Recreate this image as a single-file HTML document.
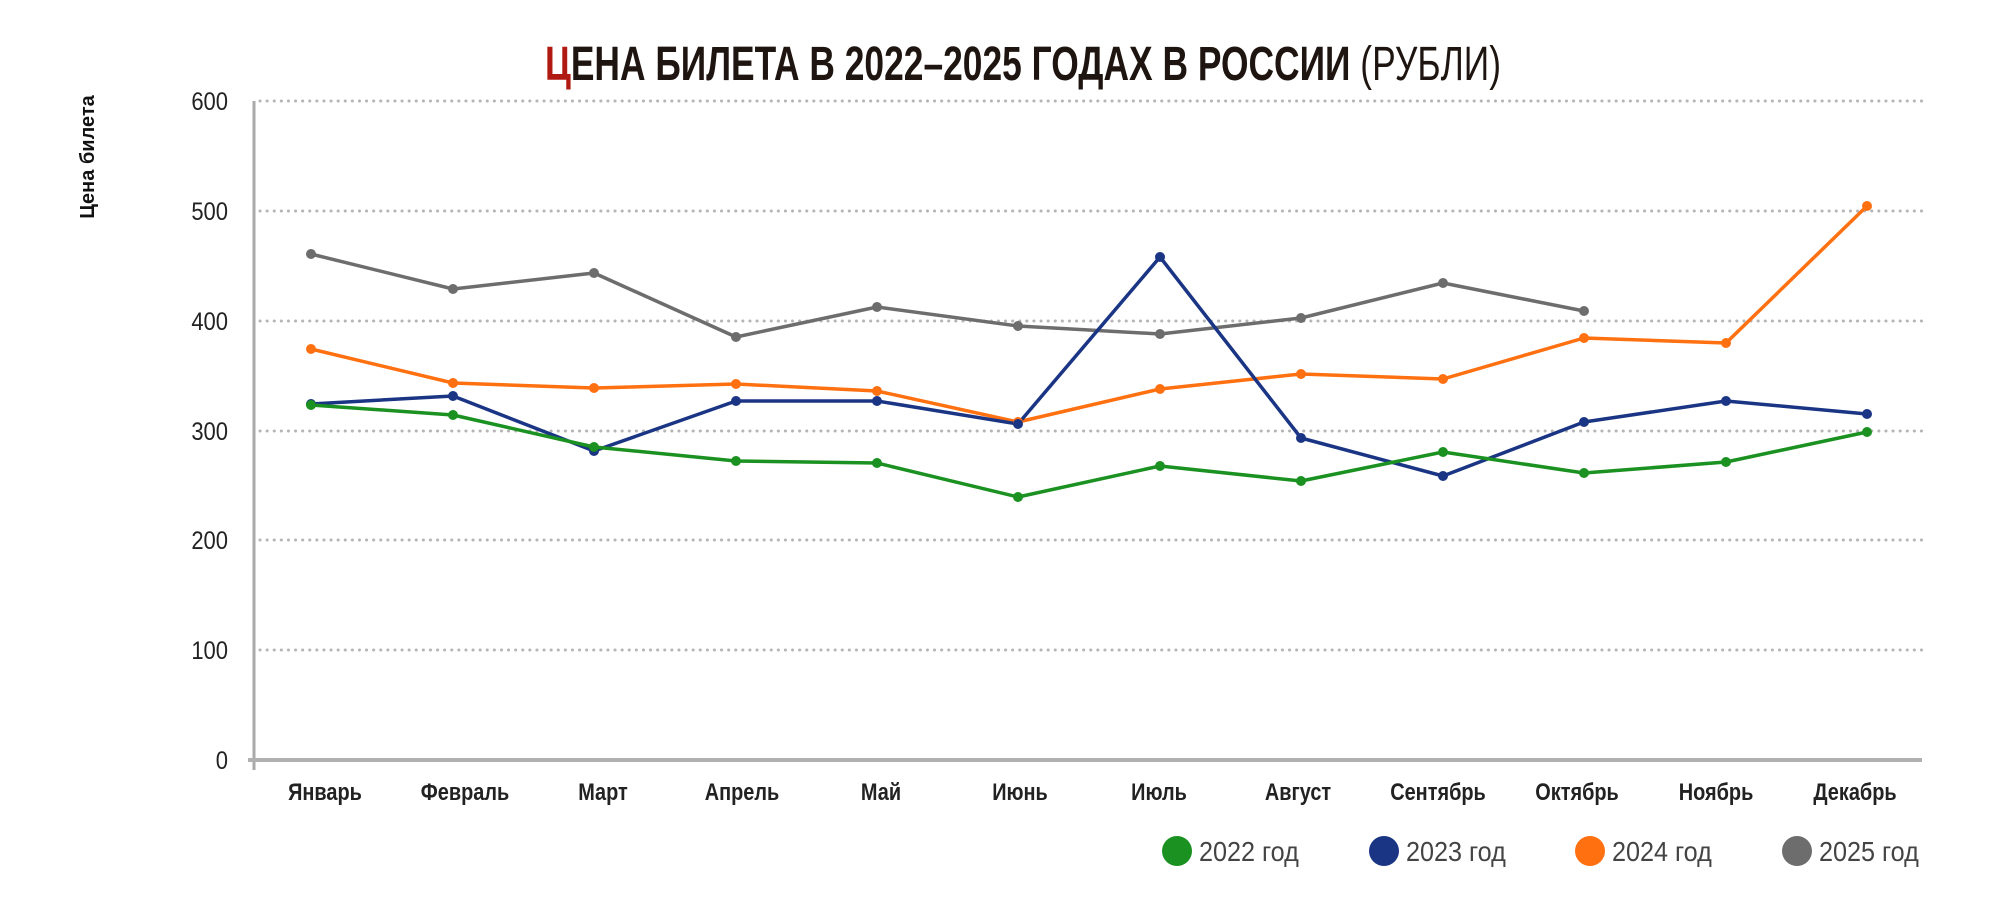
<!DOCTYPE html>
<html><head><meta charset="utf-8"><style>
html,body{margin:0;padding:0;background:#fff}
svg{display:block}
text{font-family:"Liberation Sans Narrow","Liberation Sans",sans-serif}
</style></head><body>
<svg width="2000" height="906" viewBox="0 0 2000 906" xmlns="http://www.w3.org/2000/svg">
<text x="545" y="80" font-size="48" font-weight="bold" fill="#1e1510" textLength="956" lengthAdjust="spacingAndGlyphs"><tspan fill="#b01a12">Ц</tspan>ЕНА БИЛЕТА В 2022–2025 ГОДАХ В РОССИИ <tspan font-weight="normal">(РУБЛИ)</tspan></text>
<text transform="translate(94,157) rotate(-90)" text-anchor="middle" font-size="20" font-weight="bold" fill="#111" style="font-family:'Liberation Sans',sans-serif">Цена билета</text>
<g stroke="#b5b5b5" stroke-width="3" stroke-dasharray="0.1 7" stroke-linecap="round">
<line x1="260" y1="101" x2="1922" y2="101"/>
<line x1="260" y1="211" x2="1922" y2="211"/>
<line x1="260" y1="321" x2="1922" y2="321"/>
<line x1="260" y1="431" x2="1922" y2="431"/>
<line x1="260" y1="540" x2="1922" y2="540"/>
<line x1="260" y1="650" x2="1922" y2="650"/>
</g>
<line x1="254" y1="101" x2="254" y2="770" stroke="#aaa" stroke-width="3"/>
<line x1="248" y1="760" x2="1922" y2="760" stroke="#b0b0b0" stroke-width="4"/>
<g font-size="25" fill="#222" text-anchor="end">
<text transform="translate(228,110) scale(0.88,1)">600</text><text transform="translate(228,220) scale(0.88,1)">500</text><text transform="translate(228,330) scale(0.88,1)">400</text>
<text transform="translate(228,440) scale(0.88,1)">300</text><text transform="translate(228,549) scale(0.88,1)">200</text><text transform="translate(228,659) scale(0.88,1)">100</text><text transform="translate(228,769) scale(0.88,1)">0</text>
</g>
<g font-size="24" font-weight="bold" fill="#222" text-anchor="middle">
<text transform="translate(325,800) scale(0.83,1)">Январь</text><text transform="translate(465,800) scale(0.83,1)">Февраль</text><text transform="translate(603,800) scale(0.83,1)">Март</text>
<text transform="translate(742,800) scale(0.83,1)">Апрель</text><text transform="translate(881,800) scale(0.83,1)">Май</text><text transform="translate(1020,800) scale(0.83,1)">Июнь</text>
<text transform="translate(1159,800) scale(0.83,1)">Июль</text><text transform="translate(1298,800) scale(0.83,1)">Август</text><text transform="translate(1438,800) scale(0.83,1)">Сентябрь</text>
<text transform="translate(1577,800) scale(0.83,1)">Октябрь</text><text transform="translate(1716,800) scale(0.83,1)">Ноябрь</text><text transform="translate(1855,800) scale(0.83,1)">Декабрь</text>
</g>
<g fill="none" stroke-width="3.5" stroke-linejoin="round">
<polyline stroke="#6d6d6d" points="311,254 453,289 594,273 736,337 877,307 1018,326 1160,334 1301,318 1443,283 1584,311"/>
<polyline stroke="#ff7011" points="311,349 453,383 594,388 736,384 877,391 1018,422 1160,389 1301,374 1443,379 1584,338 1726,343 1867,206"/>
<polyline stroke="#1b3585" points="311,404 453,396 594,451 736,401 877,401 1018,424 1160,257 1301,438 1443,476 1584,422 1726,401 1867,414"/>
<polyline stroke="#1a9120" points="311,405 453,415 594,447 736,461 877,463 1018,497 1160,466 1301,481 1443,452 1584,473 1726,462 1867,432"/>
</g>
<g fill="#6d6d6d"><circle cx="311" cy="254" r="5"/><circle cx="453" cy="289" r="5"/><circle cx="594" cy="273" r="5"/><circle cx="736" cy="337" r="5"/><circle cx="877" cy="307" r="5"/><circle cx="1018" cy="326" r="5"/><circle cx="1160" cy="334" r="5"/><circle cx="1301" cy="318" r="5"/><circle cx="1443" cy="283" r="5"/><circle cx="1584" cy="311" r="5"/></g>
<g fill="#ff7011"><circle cx="311" cy="349" r="5"/><circle cx="453" cy="383" r="5"/><circle cx="594" cy="388" r="5"/><circle cx="736" cy="384" r="5"/><circle cx="877" cy="391" r="5"/><circle cx="1018" cy="422" r="5"/><circle cx="1160" cy="389" r="5"/><circle cx="1301" cy="374" r="5"/><circle cx="1443" cy="379" r="5"/><circle cx="1584" cy="338" r="5"/><circle cx="1726" cy="343" r="5"/><circle cx="1867" cy="206" r="5"/></g>
<g fill="#1b3585"><circle cx="311" cy="404" r="5"/><circle cx="453" cy="396" r="5"/><circle cx="594" cy="451" r="5"/><circle cx="736" cy="401" r="5"/><circle cx="877" cy="401" r="5"/><circle cx="1018" cy="424" r="5"/><circle cx="1160" cy="257" r="5"/><circle cx="1301" cy="438" r="5"/><circle cx="1443" cy="476" r="5"/><circle cx="1584" cy="422" r="5"/><circle cx="1726" cy="401" r="5"/><circle cx="1867" cy="414" r="5"/></g>
<g fill="#1a9120"><circle cx="311" cy="405" r="5"/><circle cx="453" cy="415" r="5"/><circle cx="594" cy="447" r="5"/><circle cx="736" cy="461" r="5"/><circle cx="877" cy="463" r="5"/><circle cx="1018" cy="497" r="5"/><circle cx="1160" cy="466" r="5"/><circle cx="1301" cy="481" r="5"/><circle cx="1443" cy="452" r="5"/><circle cx="1584" cy="473" r="5"/><circle cx="1726" cy="462" r="5"/><circle cx="1867" cy="432" r="5"/></g>
<g font-size="28" fill="#444">
<circle cx="1177" cy="851" r="15" fill="#1a9120"/><text transform="translate(1199,861) scale(0.9,1)">2022 год</text>
<circle cx="1384" cy="851" r="15" fill="#1b3585"/><text transform="translate(1406,861) scale(0.9,1)">2023 год</text>
<circle cx="1590" cy="851" r="15" fill="#ff7011"/><text transform="translate(1612,861) scale(0.9,1)">2024 год</text>
<circle cx="1797" cy="851" r="15" fill="#6d6d6d"/><text transform="translate(1819,861) scale(0.9,1)">2025 год</text>
</g>
</svg>
</body></html>
